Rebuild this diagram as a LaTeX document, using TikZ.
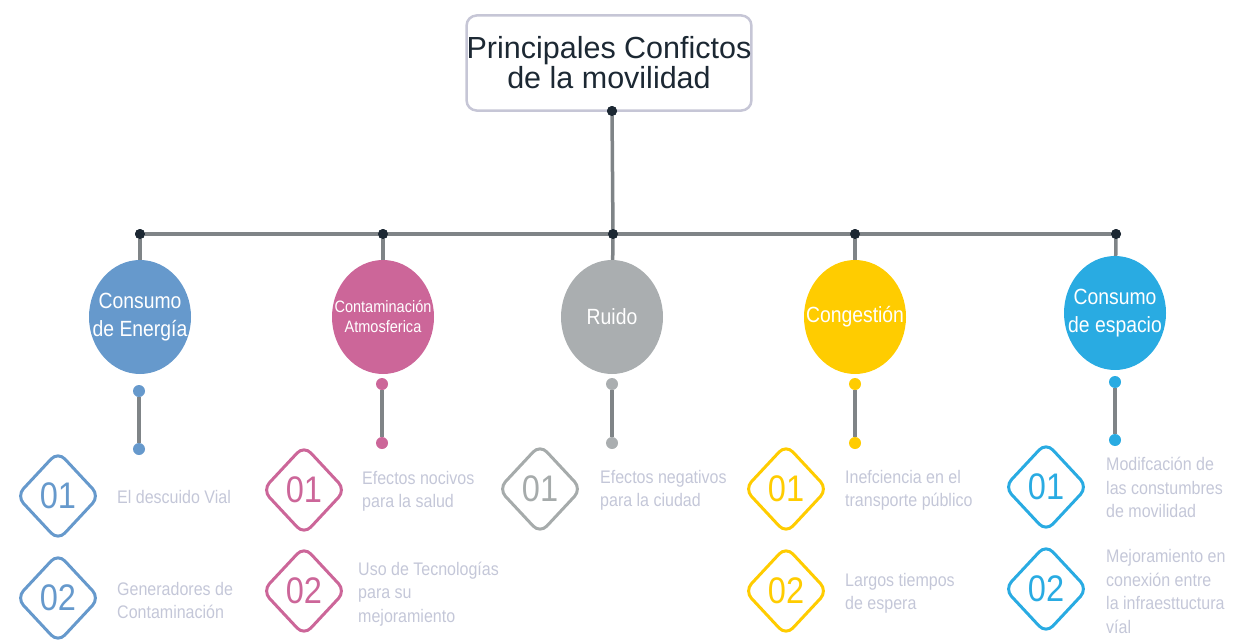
\documentclass[tikz,border=0pt]{standalone}
\usepackage{fontspec}
\setmainfont{Liberation Sans}
\newfontfamily\cond{Liberation Sans}[FakeStretch=0.88]
\usetikzlibrary{shapes.geometric}
\definecolor{cblue}{HTML}{6699CC}
\definecolor{cpink}{HTML}{CC6699}
\definecolor{cgray}{HTML}{AAAEB0}
\definecolor{cgrayd}{HTML}{A6ABAB}
\definecolor{cyell}{HTML}{FFCC00}
\definecolor{ccyan}{HTML}{29ABE2}
\definecolor{navy}{HTML}{1C2833}
\definecolor{lineg}{HTML}{7F8487}
\definecolor{boxb}{HTML}{C6C6D6}
\definecolor{labc}{HTML}{C4C7D8}
\begin{document}
\begin{tikzpicture}[x=1pt,y=-1pt,
  conn/.style={draw=lineg, line width=3.5pt},
  hubdot/.style={circle, fill=navy, inner sep=0pt, minimum size=10pt},
  cdot/.style={circle, fill=#1, inner sep=0pt, minimum size=12pt},
  topic/.style={ellipse, inner sep=0pt, minimum width=102pt, minimum height=114pt, fill=#1},
  ttext/.style={text=white, align=center, inner sep=0pt, font=\cond\fontsize{22}{28}\selectfont},
  numbox/.style={diamond, draw=#1, text=#1, line width=3pt, rounded corners=10pt, inner sep=0pt,
     minimum width=84pt, minimum height=90pt, font=\cond\fontsize{37}{37}\selectfont},
  lab/.style={anchor=west, align=left, inner sep=0pt, text=labc, font=\cond\fontsize{18.2}{23.5}\selectfont}
]
\useasboundingbox (0,0) rectangle (1234,642);

% title
\node[draw=boxb, line width=2.5pt, rounded corners=10pt, inner sep=0pt, minimum width=284pt, minimum height=95pt,
  align=center, text=navy, font=\fontsize{30.5}{30}\selectfont] (title) at (609,63)
  {Principales Confictos\\de la movilidad};
\node[hubdot] (t0) at (612,111) {};

% hub dots
\node[hubdot] (h1) at (140,234) {};
\node[hubdot] (h2) at (383,234) {};
\node[hubdot] (h3) at (613,234) {};
\node[hubdot] (h4) at (855,234) {};
\node[hubdot] (h5) at (1116,234) {};

% topics
\node[topic=cblue] (c1) at (140,317) {};
\node[topic=cpink] (c2) at (383,317) {};
\node[topic=cgray] (c3) at (612,317) {};
\node[topic=cyell] (c4) at (855,317) {};
\node[topic=ccyan] (c5) at (1115,313) {};

% connectors
\draw[conn] (t0) -- (h3);
\draw[conn] (h1) -- (h5);
\draw[conn] (h1) -- (c1);
\draw[conn] (h2) -- (c2);
\draw[conn] (h3) -- (c3);
\draw[conn] (h4) -- (c4);
\draw[conn] (h5) -- (c5);
\node[hubdot] at (t0) {};
\node[hubdot] at (h1) {};
\node[hubdot] at (h2) {};
\node[hubdot] at (h3) {};
\node[hubdot] at (h4) {};
\node[hubdot] at (h5) {};

\node[ttext] (tt1) at (c1) {Consumo\\de Energía};
\node[ttext, font=\cond\fontsize{16.5}{20}\selectfont] (tt2) at (c2) {Contaminación\\Atmosferica};
\node[ttext] (tt3) at (c3) {Ruido};
\node[ttext] (tt4) at (c4) {Congestión};
\node[ttext] (tt5) at (c5) {Consumo\\de espacio};

% stems
\node[cdot=cblue] (a1) at (139,391) {};
\node[cdot=cblue] (b1) at (139,449) {};
\node[cdot=cpink] (a2) at (382,384) {};
\node[cdot=cpink] (b2) at (382,443) {};
\node[cdot=cgray] (a3) at (612,384) {};
\node[cdot=cgray] (b3) at (612,443) {};
\node[cdot=cyell] (a4) at (855,384) {};
\node[cdot=cyell] (b4) at (855,443) {};
\node[cdot=ccyan] (a5) at (1115,382) {};
\node[cdot=ccyan] (b5) at (1115,440) {};
\draw[conn] (a1) -- (b1);
\draw[conn] (a2) -- (b2);
\draw[conn] (a3) -- (b3);
\draw[conn] (a4) -- (b4);
\draw[conn] (a5) -- (b5);

% numbered diamonds
\node[numbox=cblue] (n11) at (58,496) {01};
\node[numbox=cblue] (n12) at (58,598) {02};
\node[numbox=cpink] (n21) at (304,490) {01};
\node[numbox=cpink] (n22) at (304,591) {02};
\node[numbox=cgrayd] (n31) at (540,489) {01};
\node[numbox=cyell] (n41) at (786,489) {01};
\node[numbox=cyell] (n42) at (786,591) {02};
\node[numbox=ccyan] (n51) at (1046,487) {01};
\node[numbox=ccyan] (n52) at (1046,589) {02};

% labels
\node[lab] (l11) at (117,497) {El descuido Vial};
\node[lab] (l12) at (117,600.5) {Generadores de\\Contaminación};
\node[lab] (l21) at (362,491.5) {Efectos nocivos\\para la salud};
\node[lab] (l22) at (358,594) {Uso de Tecnologías\\para su\\mejoramiento};
\node[lab] (l31) at (600,490.5) {Efectos negativos\\para la ciudad};
\node[lab] (l41) at (845,490.5) {Inefciencia en el\\transporte público};
\node[lab] (l42) at (845,593.5) {Largos tiempos\\de espera};
\node[lab] (l51) at (1106,487.5) {Modifcación de\\las constumbres\\de movilidad};
\node[lab] (l52) at (1106,591.5) {Mejoramiento en\\conexión entre\\la infraesttuctura\\víal};
\end{tikzpicture}
\end{document}
